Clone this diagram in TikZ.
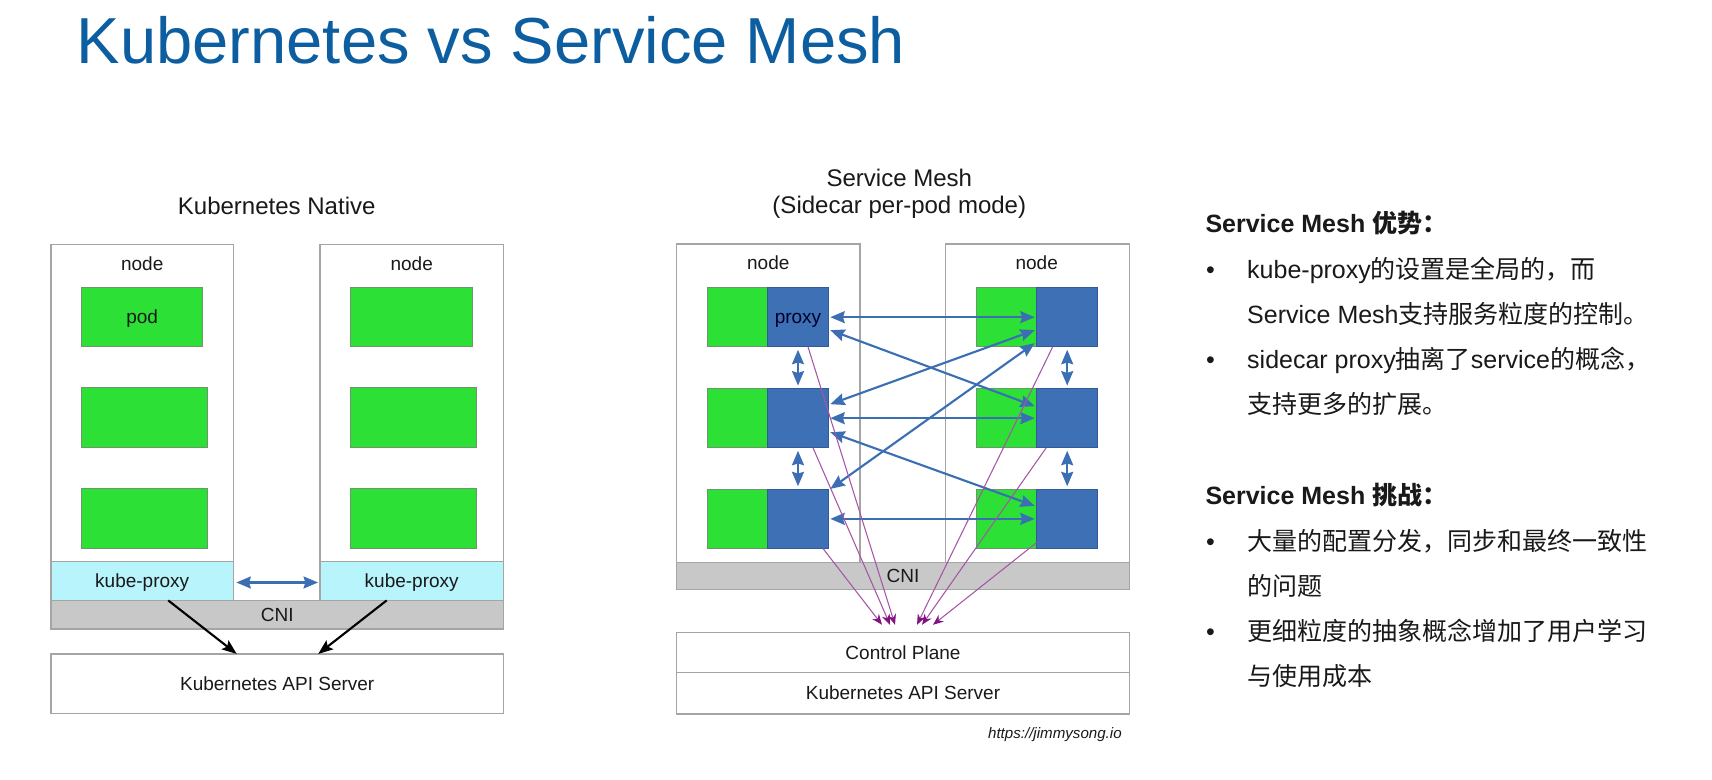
\documentclass[tikz,border=0pt]{standalone}
\usepackage{fontspec}
\setmainfont{Liberation Sans}
\newfontfamily\cjk{Noto Sans CJK SC}
\usetikzlibrary{arrows.meta,calc}
\definecolor{titleblue}{RGB}{12,94,160}
\definecolor{edgegray}{RGB}{165,165,165}
\definecolor{podgreen}{RGB}{44,224,54}
\definecolor{podedge}{RGB}{110,150,110}
\definecolor{prxblue}{RGB}{62,112,182}
\definecolor{prxedge}{RGB}{50,90,150}
\definecolor{kpcyan}{RGB}{184,244,251}
\definecolor{cnigray}{RGB}{200,200,200}
\definecolor{arrowblue}{RGB}{60,110,180}
\definecolor{purp}{RGB}{165,85,165}
\definecolor{purpdark}{RGB}{130,20,130}
\definecolor{textgray}{RGB}{25,25,25}
\newcommand\fsdiag{\fontsize{5.4pt}{6.5pt}\selectfont}
\newcommand\fshead{\fontsize{6.83pt}{8pt}\selectfont}
\newcommand\fsbody{\fontsize{7.11pt}{8.5pt}\selectfont}
\newcommand\fstitle{\fontsize{18.5pt}{22pt}\selectfont}
\newcommand\fsurl{\fontsize{4.3pt}{5pt}\selectfont}
\tikzset{
  base/.style={inner sep=0pt, outer sep=0pt},
  nodebox/.style={base, draw=edgegray, fill=white, line width=0.4pt},
  kp/.style={base, draw=edgegray, fill=kpcyan, line width=0.4pt, font=\fsdiag, text=textgray, text height=3.87pt, text depth=0pt},
  cni/.style={base, draw=edgegray, fill=cnigray, line width=0.4pt, font=\fsdiag, text=textgray, text height=3.87pt, text depth=0pt},
  api/.style={base, draw=edgegray, fill=white, line width=0.4pt, font=\fsdiag, text=textgray, text height=3.87pt, text depth=0pt},
  pod/.style={base, draw=podedge, fill=podgreen, line width=0.3pt, font=\fsdiag, text=textgray, text height=3.87pt, text depth=0pt},
  prx/.style={base, draw=prxedge, fill=prxblue, line width=0.3pt, font=\fsdiag, text=black!85!blue, text height=3.87pt, text depth=0pt},
  lbl/.style={base, anchor=base, font=\fsdiag, text=textgray},
  hlbl/.style={base, anchor=base, font=\fshead, text=textgray},
  bodytext/.style={base, anchor=base west, font=\fsbody, text=textgray},
  barrow/.style={draw=arrowblue, line width=0.6pt, {Stealth[length=4.1pt,width=3.4pt,inset=0.5pt]}-{Stealth[length=4.1pt,width=3.4pt,inset=0.5pt]}},
  parrow/.style={draw=purp, line width=0.3pt, -{Stealth[length=3pt,width=2.4pt,color=purpdark]}},
  karrow/.style={draw=black, line width=0.6pt, -{Stealth[length=4.2pt,width=3.2pt,inset=0.8pt]}},
}
\begin{document}
\begin{tikzpicture}[x=0.01cm,y=-0.01cm]
\fill[white] (0,0) rectangle (1712,780);
\useasboundingbox (0,0) rectangle (1712,780);

% title
\node[base, anchor=base west, font=\fstitle, text=titleblue] (title) at (77,64) {Kubernetes vs Service Mesh};

% ---------- Kubernetes Native ----------
\node[hlbl] (knTitle) at (276.7,214.3) {Kubernetes Native};
\node[nodebox, minimum width=1.823cm, minimum height=3.561cm] (lnA) at (142.2,422.4) {};
\node[nodebox, minimum width=1.833cm, minimum height=3.561cm] (lnB) at (411.7,422.4) {};
\node[lbl] (lnAlbl) at (142.2,270.4) {node};
\node[lbl] (lnBlbl) at (411.7,270.4) {node};
\node[pod, minimum width=1.21cm, minimum height=0.597cm] (kpodA1) at (142.2,317) {pod};
\node[pod, minimum width=1.26cm, minimum height=0.60cm] (kpodA2) at (144.7,417.9) {};
\node[pod, minimum width=1.26cm, minimum height=0.597cm] (kpodA3) at (144.7,518.8) {};
\node[pod, minimum width=1.213cm, minimum height=0.597cm] (kpodB1) at (411.4,317) {};
\node[pod, minimum width=1.26cm, minimum height=0.60cm] (kpodB2) at (413.7,417.9) {};
\node[pod, minimum width=1.26cm, minimum height=0.597cm] (kpodB3) at (413.7,518.8) {};
\node[kp, minimum width=1.823cm, minimum height=0.386cm] (kpL) at (142.2,581.1) {kube-proxy};
\node[kp, minimum width=1.833cm, minimum height=0.386cm] (kpR) at (411.7,581.1) {kube-proxy};
\node[cni, minimum width=4.523cm, minimum height=0.285cm] (cniL) at (277.2,614.7) {CNI};
\node[api, minimum width=4.523cm, minimum height=0.597cm] (apiL) at (277.2,683.8) {Kubernetes API Server};

\draw[barrow] ($(kpL.east)+(3,1.4)$) -- ($(kpR.west)+(-2,1.4)$);
\draw[karrow] ($(kpL.south)+(26,0)$) -- ($(apiL.north)+(-40.5,0)$);
\draw[karrow] ($(kpR.south)+(-25,0)$) -- ($(apiL.north)+(41,0)$);

% ---------- Service Mesh ----------
\node[hlbl] (smTitle1) at (899.3,186.4) {Service Mesh};
\node[hlbl] (smTitle2) at (899.3,213.5) {(Sidecar per-pod mode)};
\node[nodebox, minimum width=1.833cm, minimum height=3.182cm] (rnA) at (768.3,403.4) {};
\node[nodebox, minimum width=1.836cm, minimum height=3.182cm] (rnB) at (1037.5,403.4) {};
\node[lbl] (rnAlbl) at (768.3,269.6) {node};
\node[lbl] (rnBlbl) at (1036.7,269.6) {node};

\node[pod, minimum width=0.60cm, minimum height=0.592cm] (lg1) at (737.7,317.2) {};
\node[pod, minimum width=0.60cm, minimum height=0.592cm] (lg2) at (737.7,418.2) {};
\node[pod, minimum width=0.60cm, minimum height=0.592cm] (lg3) at (737.7,518.9) {};
\node[prx, minimum width=0.606cm, minimum height=0.592cm] (lp1) at (798,317.2) {proxy};
\node[prx, minimum width=0.606cm, minimum height=0.592cm] (lp2) at (798,418.2) {};
\node[prx, minimum width=0.606cm, minimum height=0.592cm] (lp3) at (798,518.9) {};
\node[pod, minimum width=0.60cm, minimum height=0.592cm] (rg1) at (1006.7,317.2) {};
\node[pod, minimum width=0.60cm, minimum height=0.592cm] (rg2) at (1006.7,418.2) {};
\node[pod, minimum width=0.60cm, minimum height=0.592cm] (rg3) at (1006.7,518.9) {};
\node[prx, minimum width=0.61cm, minimum height=0.592cm] (rp1) at (1067.2,317.2) {};
\node[prx, minimum width=0.61cm, minimum height=0.592cm] (rp2) at (1067.2,418.2) {};
\node[prx, minimum width=0.61cm, minimum height=0.592cm] (rp3) at (1067.2,518.9) {};

\node[cni, minimum width=4.526cm, minimum height=0.267cm] (cniR) at (903,575.9) {CNI};
\node[api, minimum width=4.526cm, minimum height=0.396cm] (cp) at (903,652.6) {Control Plane};
\node[api, minimum width=4.526cm, minimum height=0.414cm] (apiR) at (903,693.1) {Kubernetes API Server};
\node[base, anchor=base east, font=\fsurl\itshape, text=textgray] (url) at (1121.7,738.5) {https://jimmysong.io};

% blue mesh arrows
\draw[barrow] ($(lp1.east)+(2,0)$) -- ($(rp1.west)+(-2,0)$);
\draw[barrow] ($(lp1.east)+(2,13)$) -- ($(rp2.west)+(-2,-12)$);
\draw[barrow] ($(rp1.west)+(-2,13)$) -- ($(lp2.east)+(2,-14)$);
\draw[barrow] ($(lp2.east)+(2,0)$) -- ($(rp2.west)+(-2,0)$);
\draw[barrow] ($(rp1.west)+(-2,26)$) -- ($(lp3.east)+(2,-30)$);
\draw[barrow] ($(lp2.east)+(2,14)$) -- ($(rp3.west)+(-2,-13)$);
\draw[barrow] ($(lp3.east)+(2,0)$) -- ($(rp3.west)+(-2,0)$);
\draw[barrow] ($(lp1.south)+(0,3)$) -- ($(lp2.north)+(0,-3)$);
\draw[barrow] ($(lp2.south)+(0,3)$) -- ($(lp3.north)+(0,-3)$);
\draw[barrow] ($(rp1.south)+(0,3)$) -- ($(rp2.north)+(0,-3)$);
\draw[barrow] ($(rp2.south)+(0,3)$) -- ($(rp3.north)+(0,-3)$);

% purple control arrows
\draw[parrow] ($(lp1.south)+(10,0)$) -- ($(cp.north)+(-8,-8)$);
\draw[parrow] ($(lp2.south)+(15,0)$) -- ($(cp.north)+(-13,-8)$);
\draw[parrow] ($(lp3.south)+(25,0)$) -- ($(cp.north)+(-21,-8)$);
\draw[parrow] ($(rp1.south)+(-14.5,0)$) -- ($(cp.north)+(14,-8)$);
\draw[parrow] ($(rp2.south)+(-21,0)$) -- ($(cp.north)+(19,-8)$);
\draw[parrow] ($(rp3.south west)+(0,-6)$) -- ($(cp.north)+(30,-8)$);

% ---------- right text ----------
\node[bodytext, font=\fsbody\bfseries] (h1) at (1205.5,232.3) {Service Mesh {\cjk\bfseries 优势：}};
\node[bodytext] (b1) at (1206,279) {\textbullet};
\node[bodytext] (t1a) at (1247.2,279) {kube-proxy{\cjk 的设置是全局的，而}};
\node[bodytext] (t1b) at (1247.2,324) {Service Mesh{\cjk 支持服务粒度的控制。}};
\node[bodytext] (b2) at (1206,369) {\textbullet};
\node[bodytext] (t2a) at (1247.2,369) {sidecar proxy{\cjk 抽离了}service{\cjk 的概念，}};
\node[bodytext] (t2b) at (1247.2,414) {{\cjk 支持更多的扩展。}};
\node[bodytext, font=\fsbody\bfseries] (h2) at (1205.5,505) {Service Mesh {\cjk\bfseries 挑战：}};
\node[bodytext] (b3) at (1206,550.7) {\textbullet};
\node[bodytext] (t3a) at (1247.2,550.7) {{\cjk 大量的配置分发，同步和最终一致性}};
\node[bodytext] (t3b) at (1247.2,595.7) {{\cjk 的问题}};
\node[bodytext] (b4) at (1206,640.7) {\textbullet};
\node[bodytext] (t4a) at (1247.2,640.7) {{\cjk 更细粒度的抽象概念增加了用户学习}};
\node[bodytext] (t4b) at (1247.2,685.7) {{\cjk 与使用成本}};
\end{tikzpicture}
\end{document}
